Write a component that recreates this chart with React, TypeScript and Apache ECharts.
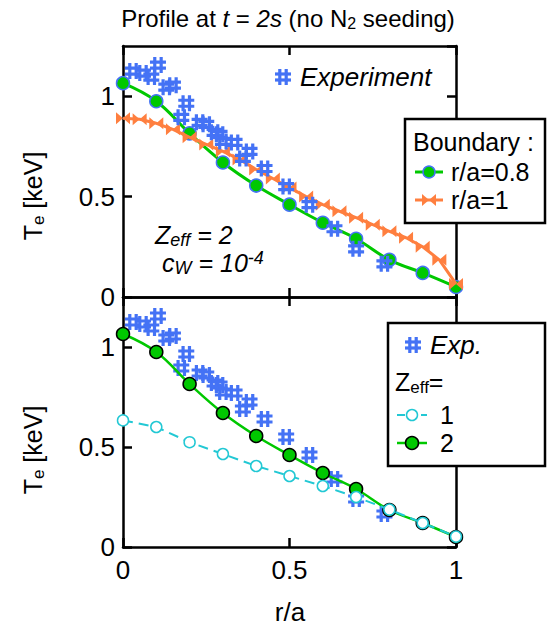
import React, { useEffect, useRef } from 'react';
import * as echarts from 'echarts';

// ---------- data ----------
const radius = [0, 0.1, 0.2, 0.3, 0.4, 0.5, 0.6, 0.7, 0.8, 0.9, 1.0];
const teBoundary08 = [1.065, 0.975, 0.815, 0.67, 0.555, 0.46, 0.37, 0.29, 0.185, 0.12, 0.05];
const radiusFine = [0, 0.05, 0.1, 0.15, 0.2, 0.25, 0.3, 0.35, 0.4, 0.45, 0.5, 0.55, 0.6, 0.65, 0.7, 0.75, 0.8, 0.85, 0.9, 0.95, 1.0];
const teBoundary1 = [0.89, 0.885, 0.865, 0.835, 0.795, 0.76, 0.725, 0.685, 0.635, 0.59, 0.545, 0.5, 0.46, 0.427, 0.395, 0.36, 0.327, 0.295, 0.25, 0.185, 0.065];
const teZeff1 = [0.633, 0.6, 0.524, 0.465, 0.405, 0.355, 0.305, 0.25, 0.187, 0.12, 0.052];
const teZeff2 = [1.065, 0.975, 0.815, 0.67, 0.555, 0.46, 0.37, 0.29, 0.185, 0.12, 0.05];
const expRadius = [0.03, 0.06, 0.085, 0.105, 0.13, 0.15, 0.175, 0.19, 0.23, 0.25, 0.275, 0.29, 0.3, 0.335, 0.36, 0.38, 0.425, 0.49, 0.56, 0.635, 0.7, 0.785];
const expTe = [1.125, 1.115, 1.095, 1.155, 1.045, 1.055, 0.895, 0.965, 0.87, 0.86, 0.82, 0.81, 0.775, 0.77, 0.69, 0.725, 0.64, 0.55, 0.46, 0.34, 0.24, 0.165];
const xTickLabels = ['0', '0.5', '1'];
const yTickLabels = ['0', '0.5', '1'];

// ---------- styles ----------
const FONT = 'Liberation Sans, Arial, sans-serif';
const BLUE = '#4472f5';
const GREEN = '#00c800';
const ORANGE = '#ff7f3f';
const CYAN = '#22c8d4';
const HASH = 'path://M3.2,0h3.2v16h-3.2zM9.6,0h3.2v16h-3.2zM0,3.4h16v3.2h-16zM0,9.4h16v3.2h-16z';
const BOWTIE = 'path://M0,0L7,6L0,12ZM14,0L7,6L14,12Z';

const pair = (xs: number[], ys: number[]) => xs.map((x, i) => [x, ys[i]]);

function hashGlyph(cx: number, cy: number) {
  const s = 16, t = 3.2;
  const x0 = cx - s / 2, y0 = cy - s / 2;
  const r = (x: number, y: number, w: number, h: number) => ({
    type: 'rect', z: 103, shape: { x: x0 + x, y: y0 + y, width: w, height: h }, style: { fill: BLUE },
  });
  return [r(3.2, 0, t, s), r(9.6, 0, t, s), r(0, 3.4, s, t), r(0, 9.4, s, t)];
}

function bowtie(cx: number, cy: number) {
  return [
    { type: 'polygon', z: 103, shape: { points: [[cx - 7, cy - 6], [cx, cy], [cx - 7, cy + 6]] }, style: { fill: ORANGE } },
    { type: 'polygon', z: 103, shape: { points: [[cx + 7, cy - 6], [cx, cy], [cx + 7, cy + 6]] }, style: { fill: ORANGE } },
  ];
}

const txt = (x: number, y: number, text: string, extra: any = {}) => ({
  type: 'text', x, y, z: 104,
  style: {
    text, fill: '#000', font: `25px ${FONT}`, fontSize: 25, fontFamily: FONT,
    textAlign: 'left', textVerticalAlign: 'middle', ...extra,
  },
});

const richBase = {
  n: { fontSize: 25, fontFamily: FONT, color: '#000', lineHeight: 28 },
  i: { fontSize: 25, fontFamily: FONT, fontStyle: 'italic', color: '#000', lineHeight: 28 },
  s: { fontSize: 17, fontFamily: FONT, color: '#000', lineHeight: 12, verticalAlign: 'bottom' },
  si: { fontSize: 18, fontFamily: FONT, fontStyle: 'italic', color: '#000', lineHeight: 12, verticalAlign: 'bottom' },
  sup: { fontSize: 18, fontFamily: FONT, fontStyle: 'italic', color: '#000', lineHeight: 14, verticalAlign: 'top' },
};

const richText = (x: number, y: number, text: string, extra: any = {}, el: any = {}) => ({
  type: 'text', x, y, z: 104, ...el,
  style: { text, rich: richBase, textAlign: 'left', textVerticalAlign: 'middle', ...extra },
});

function axisCommon(gridIndex: number) {
  return {
    gridIndex,
    min: 0,
    axisLine: { show: true, onZero: false, lineStyle: { color: '#000', width: 2.5 } },
    axisTick: { show: true, inside: true, length: 9, lineStyle: { color: '#000', width: 2.5 } },
    splitLine: { show: false },
  };
}

export default function App() {
  const ref = useRef<HTMLDivElement>(null);
  useEffect(() => {
    if (!ref.current) return;
    const chart = echarts.init(ref.current, undefined, { renderer: 'svg' });

    const xAx = (gridIndex: number, position: string, showLabels: boolean) => ({
      ...axisCommon(gridIndex), type: 'value', position, max: 1, interval: 0.5,
      axisLabel: {
        show: showLabels, fontSize: 26, fontFamily: FONT, color: '#000', margin: 10,
        formatter: (v: number) => xTickLabels[Math.round(v * 2)] ?? '',
      },
    });
    const yAx = (gridIndex: number, position: string, showLabels: boolean) => ({
      ...axisCommon(gridIndex), type: 'value', position, max: 1.25, interval: 0.5,
      axisLabel: {
        show: showLabels, fontSize: 26, fontFamily: FONT, color: '#000', margin: 8,
        showMaxLabel: false,
        formatter: (v: number) => (Math.abs(v * 2 - Math.round(v * 2)) < 1e-6 ? yTickLabels[Math.round(v * 2)] ?? '' : ''),
      },
    });

    const graphic: any[] = [
      // title
      {
        type: 'text', x: 288, y: 18, z: 104,
        style: {
          text: '{n|Profile at }{i|t}{n| = }{i|2s}{n| (no N}{s|2}{n| seeding)}',
          rich: {
            n: { fontSize: 24, fontFamily: FONT, color: '#000', lineHeight: 26 },
            i: { fontSize: 24, fontFamily: FONT, fontStyle: 'italic', color: '#000', lineHeight: 26 },
            s: { fontSize: 16, fontFamily: FONT, color: '#000', lineHeight: 10, verticalAlign: 'bottom' },
          },
          textAlign: 'center', textVerticalAlign: 'middle',
        },
      },
      // y axis names
      richText(33, 196, '{n|T}{s|e}{n| [keV]}', { textAlign: 'center' }, { rotation: Math.PI / 2 }),
      richText(33, 450, '{n|T}{s|e}{n| [keV]}', { textAlign: 'center' }, { rotation: Math.PI / 2 }),
      // x axis name
      txt(290, 612, 'r/a', { textAlign: 'center', font: `26px ${FONT}`, fontSize: 26 }),
      // annotations
      richText(155, 235, '{i|Z}{si|eff}{i| = 2}'),
      richText(162, 263, '{i|c}{si|W}{i| = 10}{sup|-4}'),
      // Experiment legend (top)
      ...hashGlyph(283, 77),
      txt(300, 77, 'Experiment', { fontStyle: 'italic', font: `italic 26px ${FONT}`, fontSize: 26 }),
      // Boundary legend box
      { type: 'rect', z: 100, shape: { x: 405, y: 119, width: 140, height: 104 }, style: { fill: '#fff', stroke: '#000', lineWidth: 2.5 } },
      txt(413, 142, 'Boundary :'),
      { type: 'line', z: 101, shape: { x1: 415, y1: 172, x2: 443, y2: 172 }, style: { stroke: GREEN, lineWidth: 3 } },
      { type: 'circle', z: 102, shape: { cx: 429, cy: 172, r: 6 }, style: { fill: GREEN, stroke: BLUE, lineWidth: 1.5 } },
      txt(451, 172, 'r/a=0.8'),
      { type: 'line', z: 101, shape: { x1: 415, y1: 200, x2: 443, y2: 200 }, style: { stroke: ORANGE, lineWidth: 3 } },
      ...bowtie(429, 200),
      txt(451, 200, 'r/a=1'),
      // Zeff legend box
      { type: 'rect', z: 100, shape: { x: 388, y: 323, width: 157, height: 143 }, style: { fill: '#fff', stroke: '#000', lineWidth: 2.5 } },
      ...hashGlyph(413, 345),
      txt(430, 345, 'Exp.', { fontStyle: 'italic', font: `italic 26px ${FONT}`, fontSize: 26 }),
      richText(395, 382, '{n|Z}{s|eff}{n|=}'),
      { type: 'line', z: 101, shape: { x1: 397, y1: 415, x2: 427, y2: 415 }, style: { stroke: CYAN, lineWidth: 2, lineDash: [8, 4] } },
      { type: 'circle', z: 102, shape: { cx: 412, cy: 415, r: 5.5 }, style: { fill: '#fff', stroke: CYAN, lineWidth: 1.5 } },
      txt(440, 415, '1'),
      { type: 'line', z: 101, shape: { x1: 397, y1: 443, x2: 427, y2: 443 }, style: { stroke: GREEN, lineWidth: 2.5 } },
      { type: 'circle', z: 102, shape: { cx: 412, cy: 443, r: 6.5 }, style: { fill: GREEN, stroke: '#000', lineWidth: 1.5 } },
      txt(440, 443, '2'),
    ];

    const option: any = {
      animation: false,
      backgroundColor: '#fff',
      grid: [
        { left: 123, top: 46, width: 333, height: 251, containLabel: false },
        { left: 123, top: 297, width: 333, height: 250, containLabel: false },
      ],
      xAxis: [xAx(0, 'bottom', false), xAx(0, 'top', false), xAx(1, 'bottom', true), xAx(1, 'top', false)],
      yAxis: [yAx(0, 'left', true), yAx(0, 'right', false), yAx(1, 'left', true), yAx(1, 'right', false)],
      series: [
        {
          name: 'r/a=0.8', type: 'line', xAxisIndex: 0, yAxisIndex: 0, data: pair(radius, teBoundary08),
          smooth: 0.4, symbol: 'circle', symbolSize: 13, z: 2,
          lineStyle: { color: GREEN, width: 3 },
          itemStyle: { color: GREEN, borderColor: BLUE, borderWidth: 1.5 },
        },
        {
          name: 'r/a=1', type: 'line', xAxisIndex: 0, yAxisIndex: 0, data: pair(radiusFine, teBoundary1),
          symbol: BOWTIE, symbolSize: [14, 12], z: 3,
          lineStyle: { color: ORANGE, width: 3 },
          itemStyle: { color: ORANGE },
        },
        {
          name: 'Experiment', type: 'scatter', xAxisIndex: 0, yAxisIndex: 0, data: pair(expRadius, expTe),
          symbol: HASH, symbolSize: 16, z: 4, itemStyle: { color: BLUE, opacity: 1 },
        },
        {
          name: 'Exp.', type: 'scatter', xAxisIndex: 2, yAxisIndex: 2, data: pair(expRadius, expTe),
          symbol: HASH, symbolSize: 16, z: 2, itemStyle: { color: BLUE, opacity: 1 },
        },
        {
          name: 'Zeff=2', type: 'line', xAxisIndex: 2, yAxisIndex: 2, data: pair(radius, teZeff2),
          smooth: 0.4, symbol: 'circle', symbolSize: 13, z: 3,
          lineStyle: { color: GREEN, width: 2.5 },
          itemStyle: { color: GREEN, borderColor: '#000', borderWidth: 1.5 },
        },
        {
          name: 'Zeff=1', type: 'line', xAxisIndex: 2, yAxisIndex: 2, data: pair(radius, teZeff1),
          symbol: 'circle', symbolSize: 11, z: 4,
          lineStyle: { color: CYAN, width: 2, type: [10, 6] },
          itemStyle: { color: '#fff', borderColor: CYAN, borderWidth: 1.5 },
        },
      ],
      graphic,
    };
    chart.setOption(option);
    return () => chart.dispose();
  }, []);
  return <div ref={ref} style={{ position: 'fixed', left: 0, top: 0, width: 547, height: 631 }} />;
}
